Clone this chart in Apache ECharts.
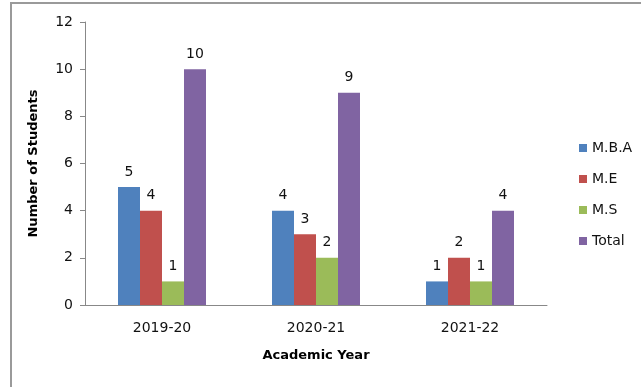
<!DOCTYPE html>
<html>
<head>
<meta charset="utf-8">
<script src="https://cdn.jsdelivr.net/npm/echarts@6/dist/echarts.min.js"></script>
<style>html,body{margin:0;padding:0;background:#fff}#c{width:641px;height:387px}</style>
</head>
<body>
<div id="c"></div>
<script>
const categories = ['2019-20', '2020-21', '2021-22'];
const mba = [5, 4, 1];
const me = [4, 3, 2];
const ms = [1, 2, 1];
const total = [10, 9, 4];
const seriesNames = ['M.B.A', 'M.E', 'M.S', 'Total'];
const colors = ['#4F81BD', '#C0504D', '#9BBB59', '#8064A2'];

const font = 'DejaVu Sans';
const chart = echarts.init(document.getElementById('c'));
const mk = (name, data, i) => ({
  name, type: 'bar', data,
  barWidth: 22, barGap: '0%',
  itemStyle: { color: colors[i] },
  label: { show: true, position: 'top', distance: 8, color: '#111', fontFamily: font, fontSize: 14 }
});
chart.setOption({
  animation: false,
  graphic: [{ type: 'rect', shape: { x: 11, y: 3, width: 700, height: 500 }, style: { fill: 'none', stroke: '#9a9a9a', lineWidth: 2 } }],
  legend: {
    orient: 'vertical', left: 574, top: 136, itemWidth: 8, itemHeight: 8, itemGap: 17,
    icon: 'rect', data: seriesNames,
    textStyle: { fontFamily: font, fontSize: 14, color: '#111' }
  },
  grid: { left: 85, right: 94, top: 22, bottom: 82 },
  xAxis: {
    type: 'category', data: categories,
    name: 'Academic Year', nameLocation: 'middle', nameGap: 44,
    nameTextStyle: { fontFamily: font, fontSize: 13, fontWeight: 'bold', color: '#000' },
    axisLine: { lineStyle: { color: '#888' } },
    axisTick: { show: false },
    axisLabel: { fontFamily: font, fontSize: 14, color: '#111', margin: 16 }
  },
  yAxis: {
    type: 'value', min: 0, max: 12, interval: 2,
    name: 'Number of Students', nameLocation: 'middle', nameGap: 45, nameRotate: 90,
    nameTextStyle: { fontFamily: font, fontSize: 13, fontWeight: 'bold', color: '#000' },
    axisLine: { show: true, lineStyle: { color: '#888' } },
    axisTick: { show: true, length: 5, lineStyle: { color: '#888' } },
    splitLine: { show: false },
    axisLabel: { fontFamily: font, fontSize: 14, color: '#111', margin: 12 }
  },
  series: [mk(seriesNames[0], mba, 0), mk(seriesNames[1], me, 1), mk(seriesNames[2], ms, 2), mk(seriesNames[3], total, 3)]
});
</script>
</body>
</html>
